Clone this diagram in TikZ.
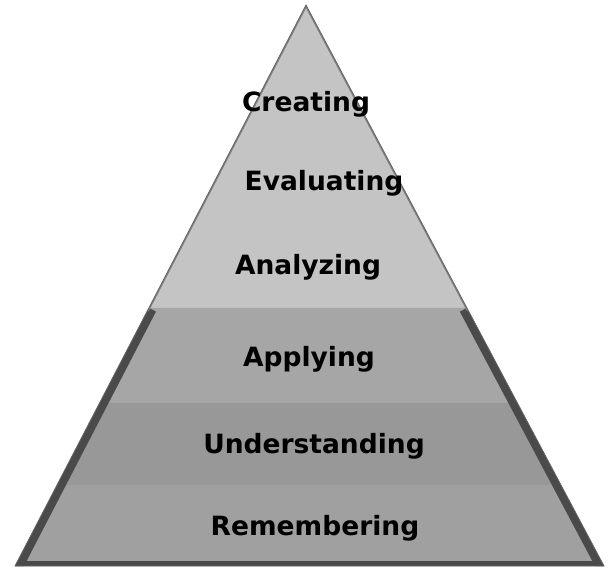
\documentclass[tikz,border=0pt]{standalone}
\usepackage{fontspec}
\setmainfont{DejaVu Sans}
\usetikzlibrary{calc}

\definecolor{grisclaro}{HTML}{C4C4C4}
\definecolor{grisapl}{HTML}{A6A6A6}
\definecolor{grisund}{HTML}{989898}
\definecolor{grisrem}{HTML}{A0A0A0}
\definecolor{grisborde}{HTML}{4A4A4A}

\tikzset{
  nivel/.style={anchor=base, font=\bfseries\fontsize{26.5}{30}\selectfont, text=black, inner sep=0pt}
}

\begin{document}
\begin{tikzpicture}[x=1pt, y=-1pt]
    \useasboundingbox (0,0) rectangle (610,570);

    % Vertices de la piramide
    \coordinate (apex) at (306,5);
    \coordinate (bl) at (15,566);
    \coordinate (br) at (604,566);

    % Franjas
    \fill[grisclaro] (apex) -- ($(apex)!0.540!(bl)$) -- ($(apex)!0.540!(br)$) -- cycle;
    \fill[grisapl] ($(apex)!0.540!(bl)$) -- ($(apex)!0.709!(bl)$) -- ($(apex)!0.709!(br)$) -- ($(apex)!0.540!(br)$) -- cycle;
    \fill[grisund] ($(apex)!0.709!(bl)$) -- ($(apex)!0.856!(bl)$) -- ($(apex)!0.856!(br)$) -- ($(apex)!0.709!(br)$) -- cycle;
    \fill[grisrem] ($(apex)!0.856!(bl)$) -- (bl) -- (br) -- ($(apex)!0.856!(br)$) -- cycle;

    % Bordes oscuros
    \begin{scope}
      \clip (apex) -- (bl) -- (br) -- cycle;
      \draw[grisborde, line width=16pt] ($(apex)!0.540!(bl)$) -- (bl);
      \draw[grisborde, line width=16pt] ($(apex)!0.540!(br)$) -- (br);
      \draw[grisborde, line width=10pt] (bl) -- (br);
      \draw[gray, line width=3pt] (apex) -- ($(apex)!0.545!(bl)$);
      \draw[gray, line width=3pt] (apex) -- ($(apex)!0.545!(br)$);
    \end{scope}
    \draw[gray!80!black, line width=0.8pt] (apex) -- (bl) -- (br) -- cycle;

    % Niveles
    \node (creating) [nivel] at (306,111) {Creating};
    \node (evaluating) [nivel] at (324,190) {Evaluating};
    \node (analyzing) [nivel] at (308,274) {Analyzing};
    \node (applying) [nivel] at (309,366) {Applying};
    \node (understanding) [nivel] at (314,453) {Understanding};
    \node (remembering) [nivel] at (315,535) {Remembering};
\end{tikzpicture}
\end{document}
